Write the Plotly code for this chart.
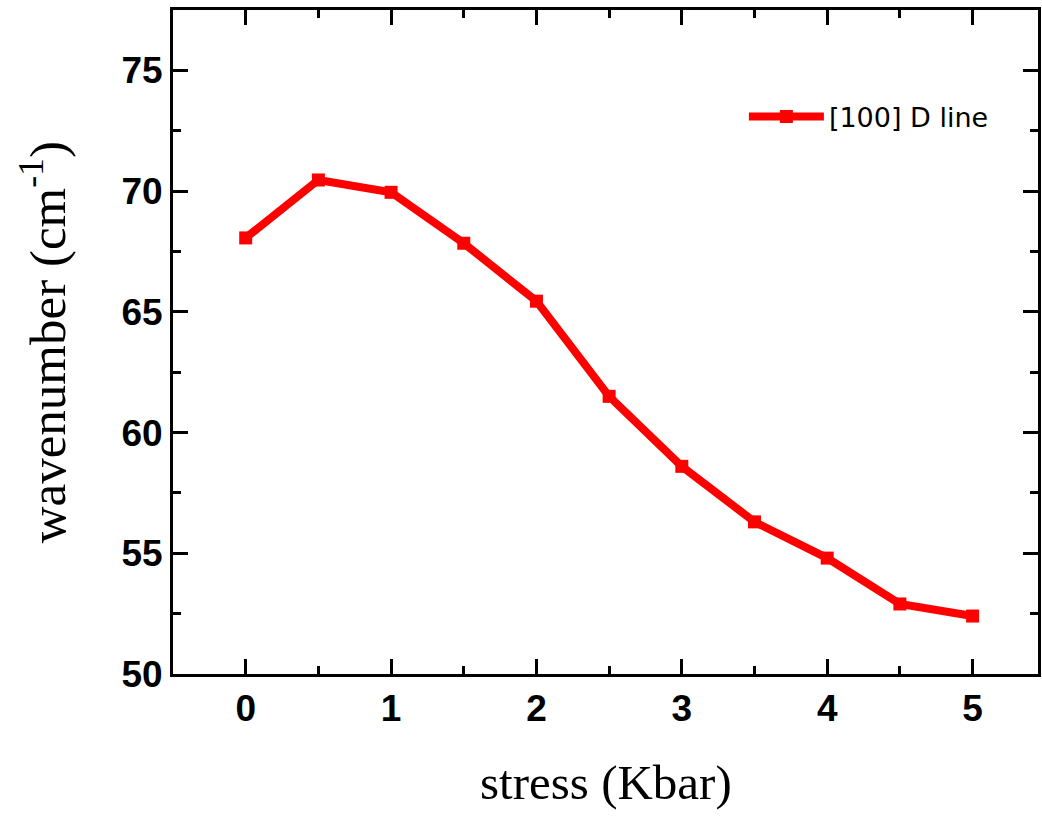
import plotly.graph_objects as go

stress = [0, 0.5, 1, 1.5, 2, 2.5, 3, 3.5, 4, 4.5, 5]
wavenumber = [68.06, 70.46, 69.95, 67.84, 65.44, 61.5, 58.6, 56.3, 54.8, 52.9, 52.4]
series_name = "[100] D line"
x_ticks = [0, 1, 2, 3, 4, 5]
y_ticks = [50, 55, 60, 65, 70, 75]

fig = go.Figure()
fig.add_trace(go.Scatter(
    x=stress, y=wavenumber, mode="lines+markers", name=series_name,
    line=dict(color="#ff0000", width=8),
    marker=dict(symbol="square", size=13, color="#ff0000"),
))

axis_common = dict(
    showline=True, linecolor="black", linewidth=3, mirror="ticks",
    ticks="inside", ticklen=15, tickwidth=3, tickcolor="black",
    showgrid=False, zeroline=False,
    tickfont=dict(family="Liberation Sans, Arial", size=37, color="black", weight="bold"),
)

fig.update_layout(
    width=1042, height=816,
    margin=dict(l=173, r=1, t=10, b=142),
    paper_bgcolor="white", plot_bgcolor="white",
    xaxis=dict(range=[-0.5, 5.45], tickvals=x_ticks,
               minor=dict(ticks="inside", ticklen=8, tickwidth=3, tickcolor="black", dtick=0.5),
               **axis_common),
    yaxis=dict(range=[50, 77.5], tickvals=y_ticks,
               minor=dict(ticks="inside", ticklen=8, tickwidth=3, tickcolor="black", dtick=2.5),
               **axis_common),
    showlegend=True,
    legend=dict(x=0.66, y=0.839, xanchor="left", yanchor="middle",
                bgcolor="rgba(0,0,0,0)", itemwidth=75,
                font=dict(family="DejaVu Sans", size=27, color="black")),
    annotations=[
        dict(text="stress (Kbar)", xref="paper", yref="paper", x=0.5, y=-0.163,
             xanchor="center", yanchor="middle", showarrow=False,
             font=dict(family="Liberation Serif, Times New Roman", size=49, color="black")),
        dict(text="wavenumber (cm<sup>-1</sup>)", xref="paper", yref="paper", x=-0.15, y=0.5,
             xanchor="center", yanchor="middle", showarrow=False, textangle=-90,
             font=dict(family="Liberation Serif, Times New Roman", size=51, color="black")),
    ],
)

fig.write_html("out.html")
